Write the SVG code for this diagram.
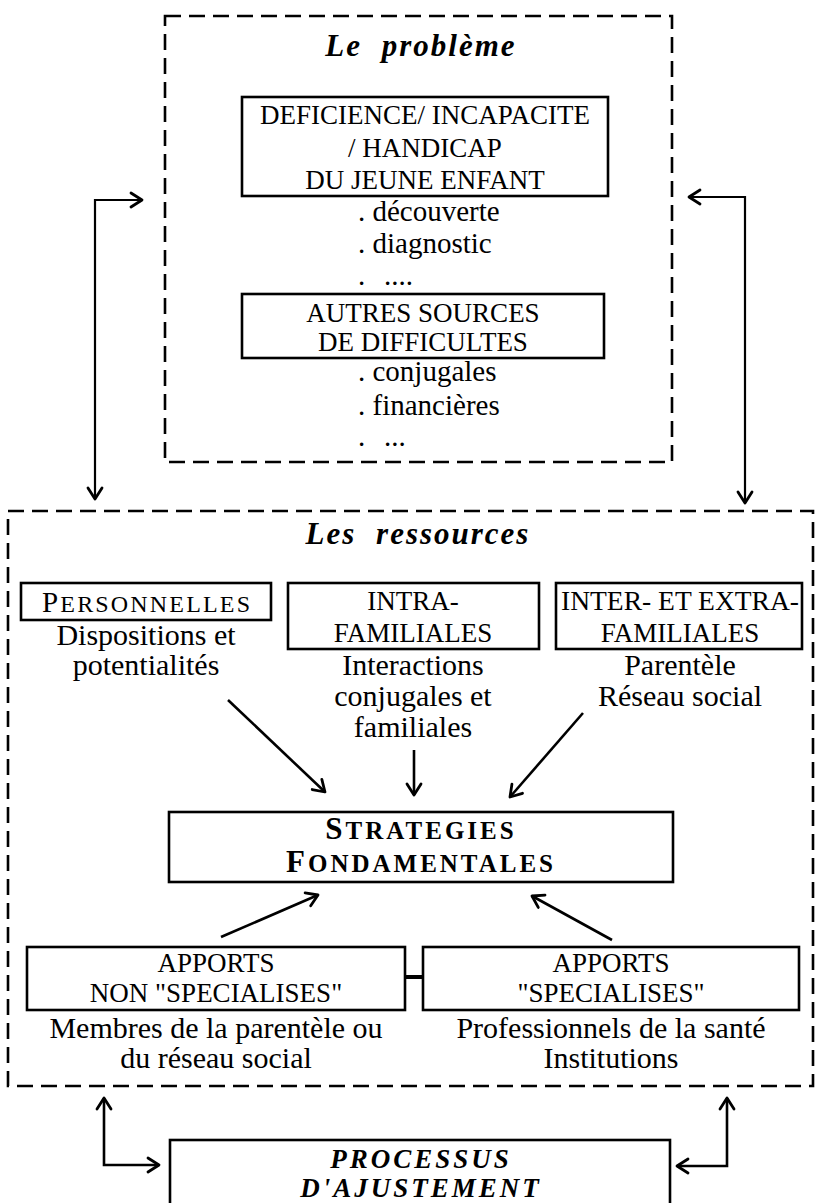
<svg xmlns="http://www.w3.org/2000/svg" width="816" height="1203" viewBox="0 0 816 1203">
<style>
  .bg{fill:#fff}
  .dash{fill:none;stroke:#000;stroke-width:2.6;stroke-dasharray:16 8}
  .box{fill:none;stroke:#000;stroke-width:2.6}
  .t{font-family:"Liberation Serif","Times New Roman",serif;fill:#000}
  .cap{font-size:27px;text-anchor:middle}
  .low{font-size:30px;text-anchor:middle}
  .lst{font-size:29px}
  .ttl{font-size:31px;font-weight:bold;font-style:italic;text-anchor:middle;letter-spacing:2px;word-spacing:10px}
  .sc{font-weight:bold;text-anchor:middle;letter-spacing:3px}
  .proc{font-size:27px;font-weight:bold;font-style:italic;text-anchor:middle;letter-spacing:3px}
  .ln{fill:none;stroke:#000;stroke-width:2.2}
  .ln2{fill:none;stroke:#000;stroke-width:2.6}
</style>
<defs>
  <marker id="ah" markerUnits="userSpaceOnUse" markerWidth="16" markerHeight="18" viewBox="0 0 16 18" refX="13" refY="9" orient="auto-start-reverse">
    <path d="M2,2 L13,9 L2,16" fill="none" stroke="#000" stroke-width="2.8" stroke-linecap="round" stroke-linejoin="round"/>
  </marker>
</defs>
<rect class="bg" x="0" y="0" width="816" height="1203"/>

<g id="probleme">
  <rect class="dash" x="165" y="16" width="507" height="446"/>
  <text class="t ttl" x="421" y="56">Le problème</text>
</g>

<g id="deficience">
  <rect class="box" x="242" y="97" width="366" height="99"/>
  <text class="t cap" x="425" y="124">DEFICIENCE/ INCAPACITE</text>
  <text class="t cap" x="425" y="157">/ HANDICAP</text>
  <text class="t cap" x="425" y="189">DU JEUNE ENFANT</text>
</g>

<g id="liste-deficience">
  <text class="t lst" x="358" y="221">. découverte</text>
  <text class="t lst" x="358" y="253">. diagnostic</text>
  <text class="t lst" x="358" y="285">.</text>
  <text class="t lst" x="384" y="285">....</text>
</g>

<g id="autres">
  <rect class="box" x="242" y="294" width="362" height="64"/>
  <text class="t cap" x="423" y="322">AUTRES SOURCES</text>
  <text class="t cap" x="423" y="351">DE DIFFICULTES</text>
</g>

<g id="liste-autres">
  <text class="t lst" x="358" y="381">. conjugales</text>
  <text class="t lst" x="358" y="415">. financières</text>
  <text class="t lst" x="358" y="446">.</text>
  <text class="t lst" x="384" y="446">...</text>
</g>

<g id="ressources">
  <rect class="dash" x="8" y="511" width="805" height="575"/>
  <text class="t ttl" x="418" y="544">Les ressources</text>
</g>

<g id="personnelles">
  <rect class="box" x="21" y="583" width="250" height="37"/>
  <text class="t" x="146" y="612" text-anchor="middle" textLength="208" lengthAdjust="spacing"><tspan font-size="29">P</tspan><tspan font-size="24">ERSONNELLES</tspan></text>
  <text class="t low" x="146" y="645">Dispositions et</text>
  <text class="t low" x="146" y="675">potentialités</text>
</g>

<g id="intra">
  <rect class="box" x="288" y="583" width="251" height="66"/>
  <text class="t cap" x="413" y="610">INTRA-</text>
  <text class="t cap" x="413" y="642">FAMILIALES</text>
  <text class="t low" x="413" y="675">Interactions</text>
  <text class="t low" x="413" y="706">conjugales et</text>
  <text class="t low" x="413" y="737">familiales</text>
</g>

<g id="inter">
  <rect class="box" x="556" y="583" width="246" height="66"/>
  <text class="t cap" x="680" y="610" textLength="238" lengthAdjust="spacingAndGlyphs">INTER- ET EXTRA-</text>
  <text class="t cap" x="680" y="642">FAMILIALES</text>
  <text class="t low" x="680" y="675">Parentèle</text>
  <text class="t low" x="680" y="706">Réseau social</text>
</g>

<g id="strategies">
  <rect class="box" x="169" y="812" width="504" height="70"/>
  <text class="t sc" x="421" y="839"><tspan font-size="31">S</tspan><tspan font-size="25">TRATEGIES</tspan></text>
  <text class="t sc" x="421" y="872"><tspan font-size="31">F</tspan><tspan font-size="25">ONDAMENTALES</tspan></text>
</g>

<g id="apports-non">
  <rect class="box" x="27" y="947" width="378" height="63"/>
  <text class="t cap" x="216" y="972">APPORTS</text>
  <text class="t cap" x="216" y="1002">NON "SPECIALISES"</text>
  <text class="t low" x="216" y="1038">Membres de la parentèle ou</text>
  <text class="t low" x="216" y="1068">du réseau social</text>
</g>

<g id="apports-spec">
  <rect class="box" x="423" y="947" width="376" height="63"/>
  <text class="t cap" x="611" y="972">APPORTS</text>
  <text class="t cap" x="611" y="1002">"SPECIALISES"</text>
  <text class="t low" x="611" y="1038">Professionnels de la santé</text>
  <text class="t low" x="611" y="1068">Institutions</text>
</g>

<g id="processus">
  <rect class="box" x="170" y="1140" width="500" height="75"/>
  <text class="t proc" x="421" y="1168">PROCESSUS</text>
  <text class="t proc" x="421" y="1197">D'AJUSTEMENT</text>
</g>

<g id="connectors">
  <path class="ln" d="M95,499 V200 H142" marker-start="url(#ah)" marker-end="url(#ah)"/>
  <path class="ln" d="M745,503 V197 H689" marker-start="url(#ah)" marker-end="url(#ah)"/>
  <path class="ln2" d="M228,700 L325,792" marker-end="url(#ah)"/>
  <path class="ln2" d="M414,750 V795" marker-end="url(#ah)"/>
  <path class="ln2" d="M583,713 L510,797" marker-end="url(#ah)"/>
  <path class="ln2" d="M221,937 L318,895" marker-end="url(#ah)"/>
  <path class="ln2" d="M612,940 L532,896" marker-end="url(#ah)"/>
  <path d="M405,977 H423" stroke="#000" stroke-width="4" fill="none"/>
  <path class="ln2" d="M104,1098 V1165 H159" marker-start="url(#ah)" marker-end="url(#ah)"/>
  <path class="ln2" d="M727,1098 V1166 H677" marker-start="url(#ah)" marker-end="url(#ah)"/>
</g>
</svg>
